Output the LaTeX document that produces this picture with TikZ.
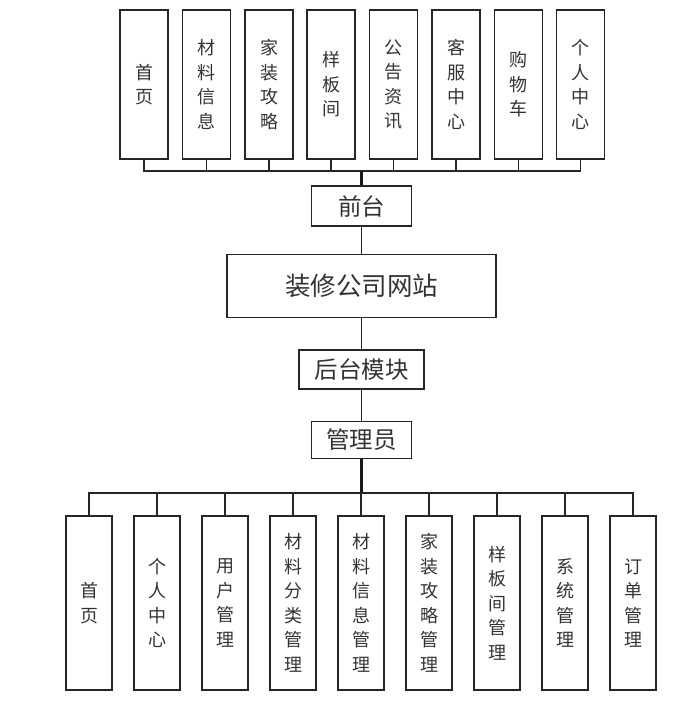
\documentclass[tikz,border=0pt]{standalone}
\usepackage{fontspec}
\setmainfont{Noto Sans CJK SC}
\usepackage{tikz}
\usetikzlibrary{
  positioning,
  calc
}

\begin{document}
\begin{tikzpicture}[
  x=1pt, y=-1pt,
  % Node styles
  frontpage/.style={
    rectangle,
    draw=black!85,
    line width=1.3pt,
    minimum height=149pt,
    minimum width=48pt,
    inner sep=0pt,
    font=\fontsize{18}{24.5}\selectfont,
    align=center,
    text=black!80,
  },
  backpage/.style={
    rectangle,
    draw=black!85,
    line width=1.3pt,
    minimum height=174pt,
    minimum width=46pt,
    inner sep=0pt,
    font=\fontsize{18}{24.5}\selectfont,
    align=center,
    text=black!80,
  },
  module/.style={
    rectangle,
    draw=black!85,
    line width=1.3pt,
    inner sep=0pt,
    font=\fontsize{23.5}{28}\selectfont,
    align=center,
    text=black!80,
  },
  link/.style={
    line width=1.6pt,
    black!85,
  },
  trunk/.style={
    line width=2.8pt,
    black!90,
  },
]

\useasboundingbox (0,0) rectangle (695,704);

% ── Row 1: front pages ──
\node[frontpage] (fhome) at (144, 84.5) {首\\页};
\node[frontpage] (fmat) at (206.5, 84.5) {材\\料\\信\\息};
\node[frontpage] (fguide) at (269, 84.5) {家\\装\\攻\\略};
\node[frontpage] (fsample) at (331, 84.5) {样\\板\\间};
\node[frontpage] (fnews) at (393.5, 84.5) {公\\告\\资\\讯};
\node[frontpage] (fservice) at (456, 84.5) {客\\服\\中\\心};
\node[frontpage] (fcart) at (518.5, 84.5) {购\\物\\车};
\node[frontpage] (fuser) at (580.5, 84.5) {个\\人\\中\\心};

% ── Row 2: front end ──
\node[module, minimum width=100pt, minimum height=40pt] (front) at (361.5, 206) {前台};

% ── Row 3: site ──
\node[module, minimum width=269pt, minimum height=63pt,
  font=\fontsize{25.5}{30}\selectfont] (site) at (361.5, 286) {装修公司网站};

% ── Row 4: back end ──
\node[module, minimum width=125pt, minimum height=39pt] (back) at (361.5, 369.5) {后台模块};
\node[module, minimum width=100pt, minimum height=37pt] (admin) at (361.5, 440) {管理员};

% ── Row 5: back pages ──
\node[backpage] (bhome) at (89, 603) {首\\页};
\node[backpage] (buser) at (157, 603) {个\\人\\中\\心};
\node[backpage] (baccount) at (225, 603) {用\\户\\管\\理};
\node[backpage] (bcategory) at (293, 603) {材\\料\\分\\类\\管\\理};
\node[backpage] (bmat) at (361, 603) {材\\料\\信\\息\\管\\理};
\node[backpage] (bguide) at (429, 603) {家\\装\\攻\\略\\管\\理};
\node[backpage] (bsample) at (497, 603) {样\\板\\间\\管\\理};
\node[backpage] (bsystem) at (565, 603) {系\\统\\管\\理};
\node[backpage] (border) at (633, 603) {订\\单\\管\\理};

% ── Buses ──
\coordinate (topbus) at (361.5, 171);
\coordinate (botbus) at (361.5, 493);

% ── Arrows ──
% Front pages → front end
\draw[link] (fhome.south) |- (topbus);
\draw[link] (fmat.south) |- (topbus);
\draw[link] (fguide.south) |- (topbus);
\draw[link] (fsample.south) |- (topbus);
\draw[link] (fnews.south) |- (topbus);
\draw[link] (fservice.south) |- (topbus);
\draw[link] (fcart.south) |- (topbus);
\draw[link] (fuser.south) |- (topbus);
\draw[trunk] (topbus) -- (front.north);

% Front end → site → back end
\draw[link] (front.south) -- (site.north);
\draw[link] (site.south) -- (back.north);
\draw[link] (back.south) -- (admin.north);

% Admin → back pages
\draw[trunk] (admin.south) -- (botbus);
\draw[link] (botbus) -| (bhome.north);
\draw[link] (botbus) -| (buser.north);
\draw[link] (botbus) -| (baccount.north);
\draw[link] (botbus) -| (bcategory.north);
\draw[link] (botbus) -| (bmat.north);
\draw[link] (botbus) -| (bguide.north);
\draw[link] (botbus) -| (bsample.north);
\draw[link] (botbus) -| (bsystem.north);
\draw[link] (botbus) -| (border.north);

\end{tikzpicture}
\end{document}
